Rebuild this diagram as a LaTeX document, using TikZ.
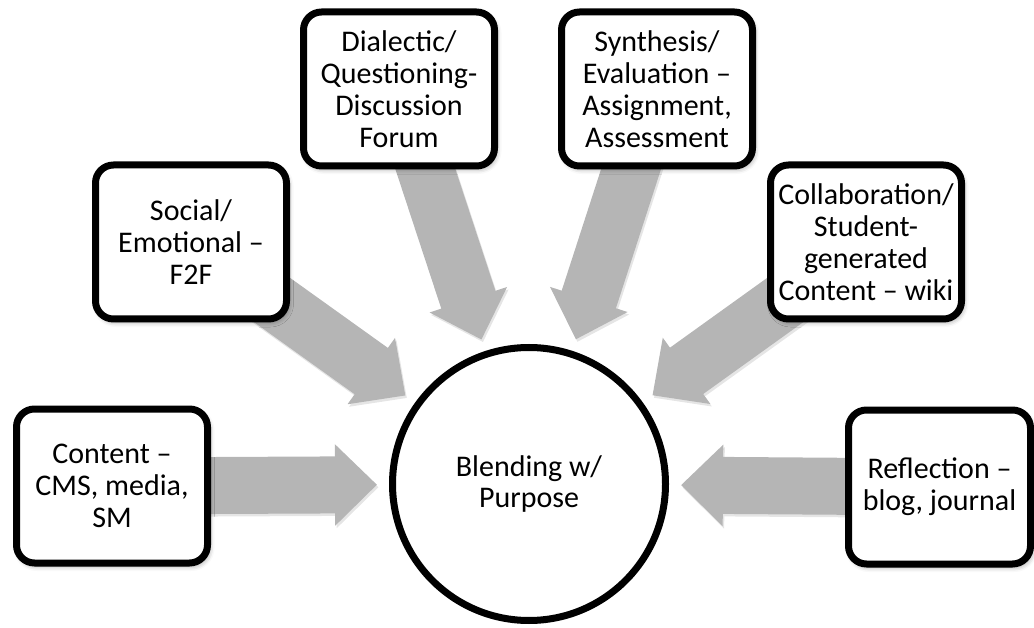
\documentclass[tikz,border=0pt]{standalone}
\usepackage{fontspec}
\setmainfont{Carlito}
\usetikzlibrary{arrows.meta,shadows.blur,calc}
\definecolor{arrgray}{RGB}{181,181,181}
\pgfdeclarelayer{bg}
\pgfsetlayers{bg,main}
\begin{document}
\begin{tikzpicture}[x=1pt,y=-1pt,
  txt/.style={font=\fontsize{30}{31.8}\selectfont, align=center},
  box/.style={txt, draw=black, line width=7pt, rounded corners=18pt, fill=white,
    minimum width=191pt, minimum height=154pt, inner sep=0pt,
    blur shadow={shadow xshift=2pt, shadow yshift=-3pt, shadow blur radius=5pt}},
  hub/.style={txt, circle, draw=black, line width=7pt, fill=white, minimum size=273pt, inner sep=0pt},
  blockarr/.style={draw=arrgray, line width=57pt, -{Triangle[width=79pt,length=42pt]}},
  arrshadow/.style={draw=black!10, line width=57pt, -{Triangle[width=79pt,length=42pt]}}
]
\useasboundingbox (0,0) rectangle (1034,628);
\node[hub] (C) at (529,484) {Blending w/\\Purpose};
\node[box] (cont) at (112,486) {Content --\\CMS, media,\\SM};
\node[box] (soc) at (191,242) {Social/\\Emotional --\\F2F};
\node[box] (dia) at (399,89) {Dialectic/\\Questioning-\\Discussion\\Forum};
\node[box] (syn) at (657,89) {Synthesis/\\Evaluation --\\Assignment,\\Assessment};
\node[box] (col) at (866,242) {Collaboration/\\Student-\\generated\\Content -- wiki};
\node[box, minimum width=182pt] (ref) at (939.5,487) {Reflection --\\blog, journal};
\foreach \b in {cont,soc,dia,syn,col,ref}{
  \coordinate (t\b) at ($(C)!152pt!(\b.center)$);
}
\begin{pgfonlayer}{bg}
\foreach \b in {cont,soc,dia,syn,col,ref}{
  \draw[arrshadow, transform canvas={shift={(1.5pt,-2.5pt)}}] (\b.center) -- (t\b);
}
\foreach \b in {cont,soc,dia,syn,col,ref}{
  \draw[blockarr] (\b.center) -- (t\b);
}
\end{pgfonlayer}
\end{tikzpicture}
\end{document}
